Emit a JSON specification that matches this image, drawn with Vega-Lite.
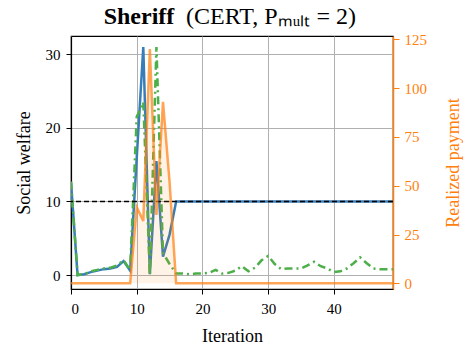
{
  "$schema": "https://vega.github.io/schema/vega-lite/v6.json",
  "width": 322,
  "height": 253,
  "autosize": {"type": "none"},
  "padding": {"left": 71, "top": 36, "right": 74, "bottom": 63},
  "config": {
    "font": "Liberation Serif",
    "view": {"stroke": "black", "strokeWidth": 1.2},
    "axis": {"gridColor": "#b0b0b0", "gridWidth": 1, "gridOpacity": 1, "tickColor": "black", "domainColor": "black", "labelColor": "black", "titleColor": "black", "labelFontSize": 15, "titleFontSize": 18, "titleFontWeight": "normal", "tickSize": 5, "labelFont": "Liberation Serif", "titleFont": "Liberation Serif"}
  },
  "title": {
    "text": "Sheriff\u00a0\u00a0\u00a0\u00a0\u00a0\u00a0\u00a0\u00a0\u00a0\u00a0\u00a0\u00a0\u00a0\u00a0\u00a0\u00a0\u00a0\u00a0\u00a0\u00a0\u00a0\u00a0\u00a0\u00a0\u00a0\u00a0\u00a0\u00a0\u00a0\u00a0\u00a0\u200b",
    "subtitle": "\u200b\u00a0\u00a0\u00a0\u00a0\u00a0\u00a0\u00a0\u00a0\u00a0\u00a0\u00a0\u00a0\u00a0(CERT, Pₘᵤₗₜ = 2)",
    "font": "Liberation Serif",
    "fontSize": 24,
    "fontWeight": "bold",
    "lineHeight": 24,
    "subtitleFontSize": 24,
    "subtitleFontWeight": "normal",
    "subtitleFont": "Liberation Serif",
    "subtitleColor": "black",
    "subtitlePadding": -24,
    "subtitleLineHeight": 24,
    "offset": 3,
    "anchor": "middle",
    "color": "black"
  },
  "datasets": {
    "series": [
      {"iter": 0, "welfare": 12.6, "welfare_alt": 12.7, "payment": 0},
      {"iter": 1, "welfare": 0, "welfare_alt": 0, "payment": 0},
      {"iter": 2, "welfare": 0.1, "welfare_alt": 0.1, "payment": 0},
      {"iter": 3, "welfare": 0.4, "welfare_alt": 0.5, "payment": 0},
      {"iter": 4, "welfare": 0.6, "welfare_alt": 0.7, "payment": 0},
      {"iter": 5, "welfare": 0.8, "welfare_alt": 0.9, "payment": 0},
      {"iter": 6, "welfare": 0.9, "welfare_alt": 1.0, "payment": 0},
      {"iter": 7, "welfare": 1.1, "welfare_alt": 1.3, "payment": 0},
      {"iter": 8, "welfare": 1.9, "welfare_alt": 2.0, "payment": 0},
      {"iter": 9, "welfare": 0.6, "welfare_alt": 0.7, "payment": 0},
      {"iter": 10, "welfare": 15.9, "welfare_alt": 21.5, "payment": 39},
      {"iter": 11, "welfare": 31, "welfare_alt": 23.5, "payment": 32},
      {"iter": 12, "welfare": 0.1, "welfare_alt": 0, "payment": 120},
      {"iter": 13, "welfare": 15.5, "welfare_alt": 31, "payment": 35},
      {"iter": 14, "welfare": 2.5, "welfare_alt": 3, "payment": 93},
      {"iter": 15, "welfare": 5.5, "welfare_alt": 1.5, "payment": 52},
      {"iter": 16, "welfare": 10, "welfare_alt": 0.2, "payment": 0},
      {"iter": 17, "welfare": 10, "welfare_alt": 0.2, "payment": 0},
      {"iter": 18, "welfare": 10, "welfare_alt": 0.1, "payment": 0},
      {"iter": 19, "welfare": 10, "welfare_alt": 0.2, "payment": 0},
      {"iter": 20, "welfare": 10, "welfare_alt": 0.2, "payment": 0},
      {"iter": 21, "welfare": 10, "welfare_alt": 0.3, "payment": 0},
      {"iter": 22, "welfare": 10, "welfare_alt": 0.7, "payment": 0},
      {"iter": 23, "welfare": 10, "welfare_alt": 0.2, "payment": 0},
      {"iter": 24, "welfare": 10, "welfare_alt": 0.3, "payment": 0},
      {"iter": 25, "welfare": 10, "welfare_alt": 0.6, "payment": 0},
      {"iter": 26, "welfare": 10, "welfare_alt": 1.2, "payment": 0},
      {"iter": 27, "welfare": 10, "welfare_alt": 0.5, "payment": 0},
      {"iter": 28, "welfare": 10, "welfare_alt": 1.0, "payment": 0},
      {"iter": 29, "welfare": 10, "welfare_alt": 2.0, "payment": 0},
      {"iter": 30, "welfare": 10, "welfare_alt": 2.6, "payment": 0},
      {"iter": 31, "welfare": 10, "welfare_alt": 1.5, "payment": 0},
      {"iter": 32, "welfare": 10, "welfare_alt": 0.8, "payment": 0},
      {"iter": 33, "welfare": 10, "welfare_alt": 0.9, "payment": 0},
      {"iter": 34, "welfare": 10, "welfare_alt": 0.9, "payment": 0},
      {"iter": 35, "welfare": 10, "welfare_alt": 0.9, "payment": 0},
      {"iter": 36, "welfare": 10, "welfare_alt": 1.3, "payment": 0},
      {"iter": 37, "welfare": 10, "welfare_alt": 1.8, "payment": 0},
      {"iter": 38, "welfare": 10, "welfare_alt": 1.2, "payment": 0},
      {"iter": 39, "welfare": 10, "welfare_alt": 0.9, "payment": 0},
      {"iter": 40, "welfare": 10, "welfare_alt": 0.4, "payment": 0},
      {"iter": 41, "welfare": 10, "welfare_alt": 0.5, "payment": 0},
      {"iter": 42, "welfare": 10, "welfare_alt": 0.9, "payment": 0},
      {"iter": 43, "welfare": 10, "welfare_alt": 1.6, "payment": 0},
      {"iter": 44, "welfare": 10, "welfare_alt": 2.4, "payment": 0},
      {"iter": 45, "welfare": 10, "welfare_alt": 1.6, "payment": 0},
      {"iter": 46, "welfare": 10, "welfare_alt": 0.9, "payment": 0},
      {"iter": 47, "welfare": 10, "welfare_alt": 0.8, "payment": 0},
      {"iter": 48, "welfare": 10, "welfare_alt": 0.8, "payment": 0},
      {"iter": 49, "welfare": 10, "welfare_alt": 0.8, "payment": 0}
    ],
    "reference": [{"level": 10}]
  },
  "layer": [
    {
      "layer": [
        {
          "data": {"name": "series"},
          "mark": {"type": "line", "stroke": "#377eb8", "strokeWidth": 2.5, "clip": true},
          "encoding": {
            "x": {"field": "iter", "type": "quantitative", "scale": {"domain": [0, 49], "nice": false, "zero": false},
                  "axis": {"title": "Iteration", "values": [0, 10, 20, 30, 40], "grid": true, "labelPadding": 7, "titlePadding": 11, "domainWidth": 1.2, "labelFont": "Liberation Serif", "titleFont": "Liberation Serif"}},
            "y": {"field": "welfare", "type": "quantitative", "scale": {"domain": [-1.9, 32.5], "nice": false, "zero": false},
                  "axis": {"title": "Social welfare", "orient": "left", "values": [0, 10, 20, 30], "grid": true, "labelPadding": 6, "titlePadding": 12, "domainWidth": 1.2, "labelFont": "Liberation Serif", "titleFont": "Liberation Serif"}}
          }
        },
        {
          "data": {"name": "series"},
          "mark": {"type": "line", "stroke": "#4daf4a", "strokeWidth": 2.5, "strokeDash": [8, 4, 2, 4], "clip": true},
          "encoding": {
            "x": {"field": "iter", "type": "quantitative"},
            "y": {"field": "welfare_alt", "type": "quantitative"}
          }
        },
        {
          "data": {"name": "reference"},
          "mark": {"type": "rule", "stroke": "black", "strokeWidth": 1.6, "strokeDash": [5, 3]},
          "encoding": {
            "y": {"field": "level", "type": "quantitative"}
          }
        }
      ]
    },
    {
      "layer": [
        {
          "data": {"name": "series"},
          "mark": {"type": "area", "color": "#ff7f0e", "opacity": 0.1, "clip": true},
          "encoding": {
            "x": {"field": "iter", "type": "quantitative"},
            "y": {"field": "payment", "type": "quantitative", "scale": {"domain": [-2.9, 126.7], "nice": false, "zero": false},
                  "axis": {"title": "Realized payment", "orient": "right", "values": [0, 25, 50, 75, 100, 125], "grid": false,
                           "labelColor": "#ff7f0e", "tickColor": "#ff7f0e", "domainColor": "#ff7f0e", "titleColor": "#ff7f0e",
                           "labelFont": "Liberation Serif", "titleFont": "Liberation Serif",
                           "domainWidth": 1.5, "tickSize": 6, "labelPadding": 5, "titlePadding": 36, "titleAngle": 270}},
            "y2": {"datum": 0}
          }
        },
        {
          "data": {"name": "series"},
          "mark": {"type": "line", "stroke": "#ff7f0e", "strokeOpacity": 0.7, "strokeWidth": 2.5, "clip": true},
          "encoding": {
            "x": {"field": "iter", "type": "quantitative"},
            "y": {"field": "payment", "type": "quantitative"}
          }
        }
      ]
    }
  ],
  "resolve": {"scale": {"y": "independent"}}
}
